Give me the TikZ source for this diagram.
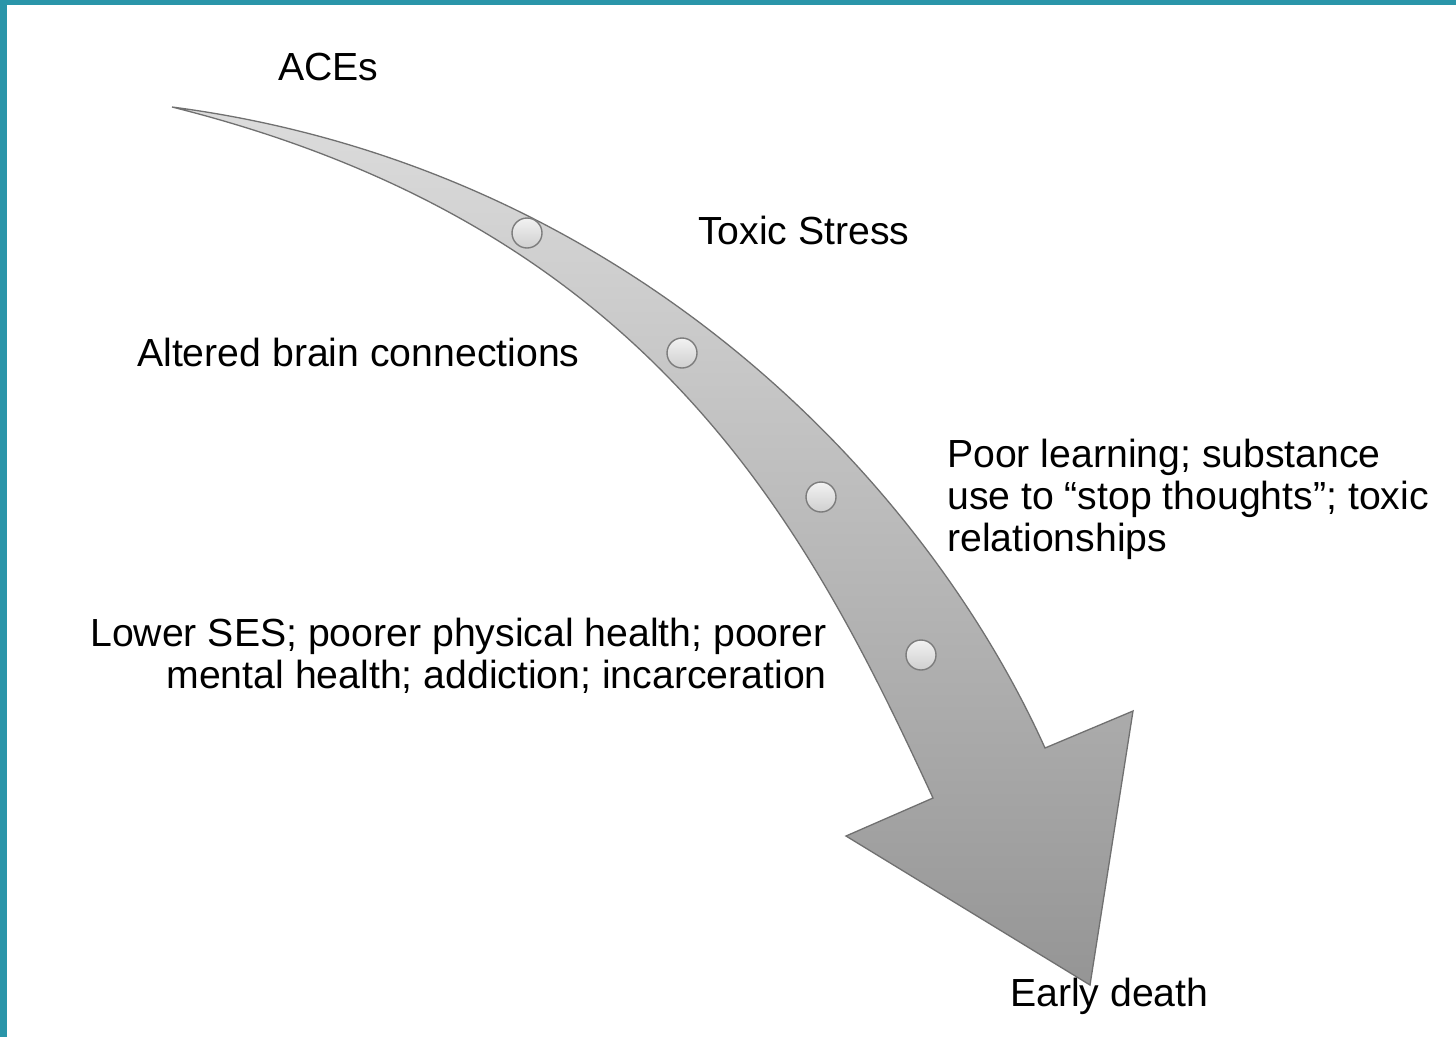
\documentclass[tikz,border=0pt]{standalone}
\usepackage{fontspec}
\setmainfont{Liberation Sans}
\definecolor{tealband}{HTML}{2A95A9}
\definecolor{arrowline}{HTML}{707070}
\definecolor{arrtop}{HTML}{DCDCDC}
\definecolor{arrbot}{HTML}{959595}
\definecolor{dottop}{HTML}{F2F2F2}
\definecolor{dotbot}{HTML}{CFCFCF}
\definecolor{dotline}{HTML}{7C7C7C}
\begin{document}
\begin{tikzpicture}[x=1pt,y=-1pt,
  lbl/.style={inner sep=0pt, text=black, font=\fontsize{39.2}{42}\selectfont},
  dot/.style={circle, minimum size=30pt, inner sep=0pt, draw=dotline, line width=1.4pt, top color=dottop, bottom color=dotbot}]
\useasboundingbox (0,0) rectangle (1456,1037);
\fill[white] (0,0) rectangle (1456,1037);
\fill[tealband] (0,0) rectangle (1456,5);
\fill[tealband] (0,0) rectangle (7,1037);
% curved arrow
\path[draw=arrowline, line width=1.3pt, top color=arrtop, bottom color=arrbot, line join=miter]
  (172,107) .. controls (622,166) and (922,475) .. (1045,748)
  -- (1133,711) -- (1090,985) -- (846,836) -- (933,798)
  .. controls (807,525) and (652,227) .. (172,107) -- cycle;
% markers on the arrow
\node[dot] (c1) at (527,233) {};
\node[dot] (c2) at (682,353) {};
\node[dot] (c3) at (821,497) {};
\node[dot] (c4) at (921,655) {};
% labels
\node[lbl, anchor=base west] (aces) at (278,80) {ACEs};
\node[lbl, anchor=base west] (toxic) at (698,244) {Toxic Stress};
\node[lbl, anchor=base west] (brain) at (137,366) {Altered brain connections};
\node[lbl, anchor=base west, align=left] (poor) at (947,551) {Poor learning; substance\\use to “stop thoughts”; toxic\\relationships};
\node[lbl, anchor=base east, align=right] (ses) at (827,688) {Lower SES; poorer physical health; poorer\\mental health; addiction; incarceration};
\node[lbl, anchor=base west] (death) at (1010,1006) {Early death};
\end{tikzpicture}
\end{document}
